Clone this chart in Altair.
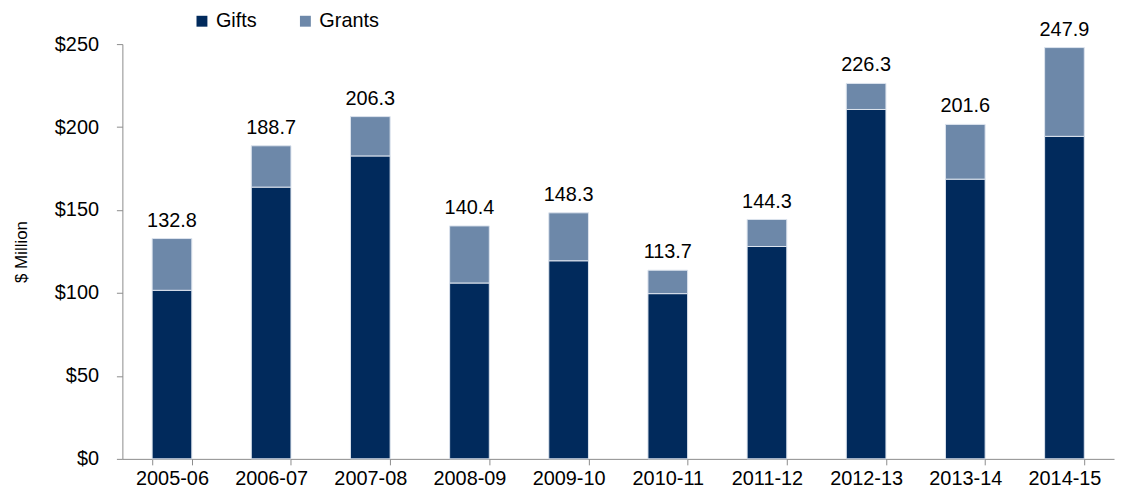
import altair as alt
import pandas as pd

years = ["2005-06", "2006-07", "2007-08", "2008-09", "2009-10",
         "2010-11", "2011-12", "2012-13", "2013-14", "2014-15"]
gifts = [101.6, 163.8, 182.6, 106.0, 119.4, 99.6, 128.0, 210.6, 168.6, 194.4]
grants = [31.2, 24.9, 23.7, 34.4, 28.9, 14.1, 16.3, 15.7, 33.0, 53.5]
totals = [132.8, 188.7, 206.3, 140.4, 148.3, 113.7, 144.3, 226.3, 201.6, 247.9]

rows = []
for y, g, gr in zip(years, gifts, grants):
    rows.append({"year": y, "type": "Gifts", "value": g, "ord": 0})
    rows.append({"year": y, "type": "Grants", "value": gr, "ord": 1})
df = pd.DataFrame(rows)
tot = pd.DataFrame({"year": years, "total": totals,
                    "label": [f"{t:.1f}" for t in totals]})

FONT = "Liberation Sans"
FS = 20

xenc = alt.X("year:N", sort=years, title=None,
             scale=alt.Scale(paddingInner=0.6, paddingOuter=0.3),
             axis=alt.Axis(labelAngle=0, labelFontSize=FS, labelColor="#000",
                           labelFont=FONT, domainColor="#8c8c8c", tickColor="#8c8c8c",
                           tickBand="extent", tickSize=6, labelPadding=4))

bars = alt.Chart(df).mark_bar(stroke="#dde4ee", strokeWidth=1).encode(
    x=xenc,
    y=alt.Y("value:Q", stack="zero", title="$ Million",
            scale=alt.Scale(domain=[0, 250], nice=False),
            axis=alt.Axis(values=[0, 50, 100, 150, 200, 250], format="$,.0f",
                          labelFontSize=FS, labelColor="#000", labelFont=FONT,
                          titleFont=FONT, titleFontSize=17, titleFontWeight="normal",
                          titleColor="#000", titlePadding=24,
                          domainColor="#8c8c8c", tickColor="#8c8c8c", tickSize=6,
                          grid=False, labelPadding=18)),
    color=alt.Color("type:N", title=None,
                    scale=alt.Scale(domain=["Gifts", "Grants"], range=["#012a5c", "#6d88a9"]),
                    legend=alt.Legend(orient="none", legendX=70, legendY=-33, direction="horizontal",
                                      symbolType="square", symbolSize=120, symbolStrokeWidth=0,
                                      labelFontSize=FS, labelFont=FONT, labelColor="#000",
                                      columnPadding=38, labelOffset=4)),
    order=alt.Order("ord:Q"),
)

labels = alt.Chart(tot).mark_text(baseline="alphabetic", dy=-12, fontSize=FS, font=FONT, color="#000").encode(
    x=alt.X("year:N", sort=years),
    y=alt.Y("total:Q"),
    text="label:N",
)

chart = alt.layer(bars, labels).properties(
    width=997, height=417,
    autosize=alt.AutoSizeParams(type="none"),
    padding={"left": 115, "top": 35, "right": 5, "bottom": 30},
).configure_view(stroke=None)

chart.save("out.html", embed_options={"renderer": "svg", "actions": False})
